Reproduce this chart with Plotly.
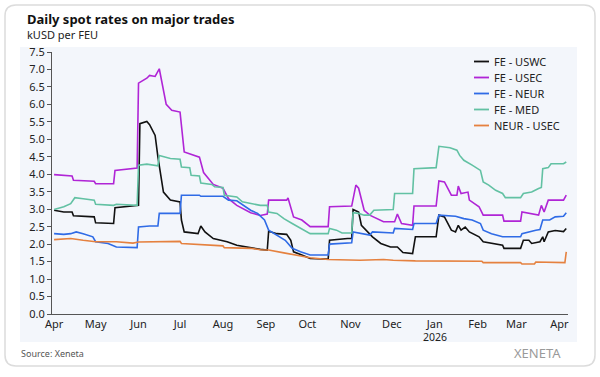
import plotly.graph_objects as go

# ---------------- data ----------------
uswc_dates = ["2025-04-01","2025-04-08","2025-04-14","2025-04-15","2025-04-30","2025-05-01","2025-05-14","2025-05-15",
              "2025-06-01","2025-06-02","2025-06-07","2025-06-09","2025-06-13","2025-06-15","2025-06-19","2025-06-24",
              "2025-07-01","2025-07-02","2025-07-04","2025-07-14","2025-07-16","2025-07-19","2025-07-25","2025-08-04",
              "2025-08-11","2025-08-21","2025-08-28","2025-09-02","2025-09-03","2025-09-09","2025-09-16","2025-09-19",
              "2025-09-21","2025-09-27","2025-10-03","2025-10-16","2025-10-17","2025-10-30","2025-11-02","2025-11-03",
              "2025-11-07","2025-11-09","2025-11-14","2025-11-17","2025-11-23","2025-11-30","2025-12-05","2025-12-09",
              "2025-12-16","2025-12-18","2026-01-02","2026-01-04","2026-01-08","2026-01-13","2026-01-16","2026-01-18",
              "2026-01-20","2026-01-23","2026-01-26","2026-02-02","2026-02-05","2026-02-11","2026-02-19","2026-02-20",
              "2026-03-04","2026-03-06","2026-03-10","2026-03-12","2026-03-18","2026-03-20","2026-03-21","2026-03-24",
              "2026-03-29","2026-04-04","2026-04-06"]
uswc_values = [2.97,2.92,2.92,2.81,2.78,2.61,2.59,3.04,
               3.11,5.45,5.51,5.42,5.11,4.50,3.49,3.26,
               3.21,2.69,2.35,2.30,2.52,2.35,2.16,2.07,
               1.97,1.89,1.85,1.83,2.37,2.30,2.28,2.11,
               1.78,1.69,1.59,1.57,2.11,2.16,2.16,2.99,
               2.92,2.54,2.35,2.21,2.02,1.92,1.92,1.76,
               1.73,2.21,2.21,2.83,2.78,2.40,2.35,2.54,
               2.40,2.49,2.35,2.21,2.07,2.02,1.97,1.88,
               1.88,2.11,2.11,2.02,2.07,2.21,2.07,2.35,
               2.39,2.36,2.45]

usec_dates = ["2025-04-01","2025-04-14","2025-04-15","2025-04-30","2025-05-01","2025-05-14","2025-05-15","2025-05-31",
              "2025-06-01","2025-06-07","2025-06-09","2025-06-13","2025-06-16","2025-06-21","2025-06-25","2025-07-01",
              "2025-07-04","2025-07-15","2025-07-18","2025-07-25","2025-08-01","2025-08-05","2025-08-11","2025-08-21",
              "2025-08-28","2025-09-02","2025-09-03","2025-09-16","2025-09-17","2025-09-21","2025-09-27","2025-10-03",
              "2025-10-16","2025-10-17","2025-11-02","2025-11-05","2025-11-07","2025-11-11","2025-11-15","2025-11-25",
              "2025-12-03","2025-12-05","2025-12-08","2025-12-16","2025-12-17","2026-01-02","2026-01-04","2026-01-08",
              "2026-01-13","2026-01-17","2026-01-18","2026-01-20","2026-01-25","2026-01-26","2026-02-02","2026-02-05",
              "2026-02-19","2026-02-20","2026-03-04","2026-03-05","2026-03-17","2026-03-19","2026-03-21","2026-03-24",
              "2026-04-04","2026-04-06"]
usec_values = [3.99,3.95,3.83,3.80,3.73,3.73,4.11,4.18,
               6.61,6.75,6.83,6.80,7.02,6.00,5.83,5.78,
               4.64,4.49,4.05,3.71,3.60,3.30,3.11,2.90,
               2.82,2.86,3.26,3.26,3.32,2.78,2.69,2.50,
               2.50,3.07,3.09,3.69,3.60,2.97,2.83,2.64,
               2.64,2.86,2.59,2.54,3.09,3.09,3.81,3.78,
               3.40,3.40,3.66,3.45,3.49,3.26,3.07,2.83,
               2.83,2.66,2.66,2.92,2.83,3.11,2.92,3.26,
               3.26,3.40]

neur_dates = ["2025-04-01","2025-04-08","2025-04-13","2025-04-17","2025-04-22","2025-04-29","2025-05-01","2025-05-10",
              "2025-05-16","2025-05-31","2025-06-01","2025-06-09","2025-06-15","2025-06-16","2025-07-01","2025-07-02",
              "2025-07-15","2025-07-16","2025-08-01","2025-08-05","2025-08-11","2025-08-16","2025-08-21","2025-08-26",
              "2025-08-31","2025-09-03","2025-09-09","2025-09-15","2025-09-20","2025-09-26","2025-10-03","2025-10-16",
              "2025-10-17","2025-11-02","2025-11-03","2025-11-07","2025-11-15","2025-11-17","2025-12-02","2025-12-03",
              "2025-12-16","2025-12-17","2026-01-02","2026-01-04","2026-01-16","2026-01-22","2026-01-28","2026-02-03",
              "2026-02-05","2026-02-11","2026-02-19","2026-03-04","2026-03-05","2026-03-15","2026-03-18","2026-03-20",
              "2026-03-25","2026-03-29","2026-04-04","2026-04-06"]
neur_values = [2.30,2.28,2.30,2.35,2.30,2.21,2.07,2.02,
               1.92,1.90,2.49,2.52,2.52,2.88,2.88,3.40,
               3.40,3.37,3.37,3.26,3.24,3.11,2.97,2.88,
               2.69,2.40,2.26,2.11,1.88,1.78,1.69,1.69,
               2.00,2.04,2.35,2.32,2.26,2.35,2.32,2.45,
               2.42,2.59,2.59,2.83,2.80,2.73,2.69,2.59,
               2.40,2.30,2.21,2.21,2.30,2.40,2.42,2.69,
               2.69,2.78,2.80,2.90]

med_dates = ["2025-04-01","2025-04-08","2025-04-13","2025-04-16","2025-04-22","2025-04-30","2025-05-01","2025-05-14",
             "2025-05-16","2025-05-31","2025-06-01","2025-06-07","2025-06-15","2025-06-16","2025-06-24","2025-07-01",
             "2025-07-02","2025-07-08","2025-07-09","2025-07-15","2025-07-16","2025-07-24","2025-07-26","2025-08-01",
             "2025-08-02","2025-08-11","2025-08-15","2025-08-21","2025-08-28","2025-09-02","2025-09-03","2025-09-09",
             "2025-09-14","2025-09-20","2025-09-26","2025-10-03","2025-10-16","2025-10-17","2025-10-22","2025-10-26",
             "2025-11-02","2025-11-03","2025-11-07","2025-11-11","2025-11-15","2025-11-18","2025-12-02","2025-12-03",
             "2025-12-16","2025-12-17","2026-01-02","2026-01-04","2026-01-12","2026-01-17","2026-01-19","2026-01-22",
             "2026-01-28","2026-02-03","2026-02-05","2026-02-09","2026-02-14","2026-02-19","2026-02-21","2026-03-04",
             "2026-03-06","2026-03-12","2026-03-17","2026-03-19","2026-03-20","2026-03-24","2026-03-26","2026-04-04",
             "2026-04-06"]
med_values = [2.99,3.07,3.16,3.33,3.30,3.26,3.14,3.11,
              3.14,3.11,4.26,4.29,4.24,4.54,4.45,4.43,
              4.21,4.19,3.97,3.95,3.75,3.71,3.64,3.62,
              3.40,3.35,3.21,3.16,3.11,3.11,2.92,2.88,
              2.73,2.59,2.45,2.30,2.30,2.45,2.40,2.32,
              2.32,2.90,2.88,2.83,2.83,2.97,2.99,3.45,
              3.45,4.16,4.19,4.80,4.76,4.69,4.54,4.40,
              4.26,4.11,3.78,3.69,3.54,3.45,3.33,3.33,
              3.45,3.49,3.59,3.62,4.16,4.19,4.30,4.30,
              4.35]

neur_usec_dates = ["2025-04-01","2025-04-13","2025-04-22","2025-05-01","2025-05-16","2025-05-28","2025-06-01","2025-06-16",
                   "2025-07-01","2025-07-02","2025-07-15","2025-08-01","2025-08-02","2025-08-11","2025-08-21","2025-08-28",
                   "2025-09-03","2025-09-14","2025-09-26","2025-10-03","2025-10-16","2025-11-08","2025-11-25","2025-12-02",
                   "2025-12-18","2026-01-15","2026-02-04","2026-02-05","2026-03-04","2026-03-05","2026-03-14","2026-03-15",
                   "2026-04-04","2026-04-05","2026-04-06"]
neur_usec_values = [2.13,2.16,2.11,2.07,2.07,2.03,2.06,2.08,
                    2.08,2.02,1.99,1.95,1.90,1.90,1.88,1.84,
                    1.83,1.75,1.66,1.61,1.56,1.54,1.56,1.54,
                    1.52,1.51,1.51,1.47,1.47,1.43,1.43,1.49,
                    1.47,1.47,1.78]

series_names = ["FE - USWC", "FE - USEC", "FE - NEUR", "FE - MED", "NEUR - USEC"]
series_colors = ["#111111", "#b025d6", "#2f6be6", "#62c1a3", "#e5813f"]

tick_dates = ["2025-04-01","2025-05-01","2025-06-01","2025-07-01","2025-08-01","2025-09-01","2025-10-01",
              "2025-11-01","2025-12-01","2026-01-01","2026-02-01","2026-03-01","2026-04-01"]
tick_labels = ["Apr","May","Jun","Jul","Aug","Sep","Oct","Nov","Dec","Jan","Feb","Mar","Apr"]
year_label_date = "2026-01-01"
year_label = "2026"

title_text = "Daily spot rates on major trades"
subtitle_text = "kUSD per FEU"
source_text = "Source: Xeneta"
brand_text = "XENETA"

# ---------------- figure ----------------
FONT = "Noto Sans"
W, H = 600, 377
L, R, T, B = 52, 32, 52, 63
PW, PH = W - L - R, H - T - B

def px(x):  # pixel -> paper x
    return (x - L) / PW

def py(y):  # pixel -> paper y
    return (H - B - y) / PH

fig = go.Figure()
data = [(uswc_dates, uswc_values), (usec_dates, usec_values), (neur_dates, neur_values),
        (med_dates, med_values), (neur_usec_dates, neur_usec_values)]
for (d, v), name, col in zip(data, series_names, series_colors):
    fig.add_trace(go.Scatter(x=d, y=v, name=name, mode="lines",
                             line=dict(color=col, width=1.6), showlegend=False))

def rounded_rect(x0, y0, x1, y1, r):
    rx, ry = r / PW, r / PH
    X0, X1 = px(x0), px(x1)
    Y0, Y1 = py(y0), py(y1)   # Y0 top, Y1 bottom
    return (f"M {X0+rx},{Y0} L {X1-rx},{Y0} Q {X1},{Y0} {X1},{Y0-ry} "
            f"L {X1},{Y1+ry} Q {X1},{Y1} {X1-rx},{Y1} L {X0+rx},{Y1} "
            f"Q {X0},{Y1} {X0},{Y1+ry} L {X0},{Y0-ry} Q {X0},{Y0} {X0+rx},{Y0} Z")

shapes = [
    dict(type="path", xref="paper", yref="paper", layer="below",
         path=rounded_rect(5, 5, 595, 366, 11),
         line=dict(color="#dcdcdc", width=1.5), fillcolor="white"),
    dict(type="rect", xref="paper", yref="paper", layer="below",
         x0=px(20), x1=px(577), y0=py(342), y1=py(47),
         line=dict(width=0), fillcolor="#f3f6fb"),
]

annotations = [
    dict(text=f"<b>{title_text}</b>", x=px(25), y=py(19), xref="paper", yref="paper",
         xanchor="left", yanchor="middle", showarrow=False,
         font=dict(family=FONT, size=13, color="#111111")),
    dict(text=subtitle_text, x=px(25), y=py(35), xref="paper", yref="paper",
         xanchor="left", yanchor="middle", showarrow=False,
         font=dict(family=FONT, size=11, color="#222222")),
    dict(text=source_text, x=px(19), y=py(353), xref="paper", yref="paper",
         xanchor="left", yanchor="middle", showarrow=False,
         font=dict(family=FONT, size=9, color="#555555")),
    dict(text=brand_text, x=px(563), y=py(353), xref="paper", yref="paper",
         xanchor="right", yanchor="middle", showarrow=False,
         font=dict(family=FONT, size=13, color="#9a9a9a")),
    dict(text=year_label, x=year_label_date, y=py(337), xref="x", yref="paper",
         xanchor="center", yanchor="middle", showarrow=False,
         font=dict(family=FONT, size=10.5, color="#222222")),
]

# manual legend (compact spacing as in the reference)
leg_y0, leg_dy = 61.5, 16
for i, (name, col) in enumerate(zip(series_names, series_colors)):
    yy = py(leg_y0 + i * leg_dy)
    shapes.append(dict(type="line", xref="paper", yref="paper", x0=px(474), x1=px(489),
                       y0=yy, y1=yy, line=dict(color=col, width=1.8)))
    annotations.append(dict(text=name, x=px(492), y=yy, xref="paper", yref="paper",
                            xanchor="left", yanchor="middle", showarrow=False,
                            font=dict(family=FONT, size=11, color="#222222")))

fig.update_layout(
    width=W, height=H,
    margin=dict(l=L, r=R, t=T, b=B, pad=0),
    paper_bgcolor="white", plot_bgcolor="rgba(0,0,0,0)",
    font=dict(family=FONT, size=11, color="#222222"),
    shapes=shapes, annotations=annotations,
    showlegend=False,
    xaxis=dict(type="date", range=["2025-03-30 12:00", "2026-04-07 06:00"],
               tickvals=tick_dates, ticktext=tick_labels, tickangle=0,
               showgrid=False, zeroline=False, showline=True, linecolor="#555555", linewidth=1,
               ticks="", tickfont=dict(size=11, color="#222222")),
    yaxis=dict(range=[0, 7.5], dtick=0.5, tick0=0, tickformat=".1f",
               showgrid=False, zeroline=False, showline=True, linecolor="#555555", linewidth=1,
               ticks="outside", ticklen=4, tickcolor="#555555",
               tickfont=dict(size=11, color="#222222")),
)

fig.write_html("out.html", config={"displayModeBar": False},
               post_script="document.body.style.margin='0';document.documentElement.style.overflow='hidden';")
